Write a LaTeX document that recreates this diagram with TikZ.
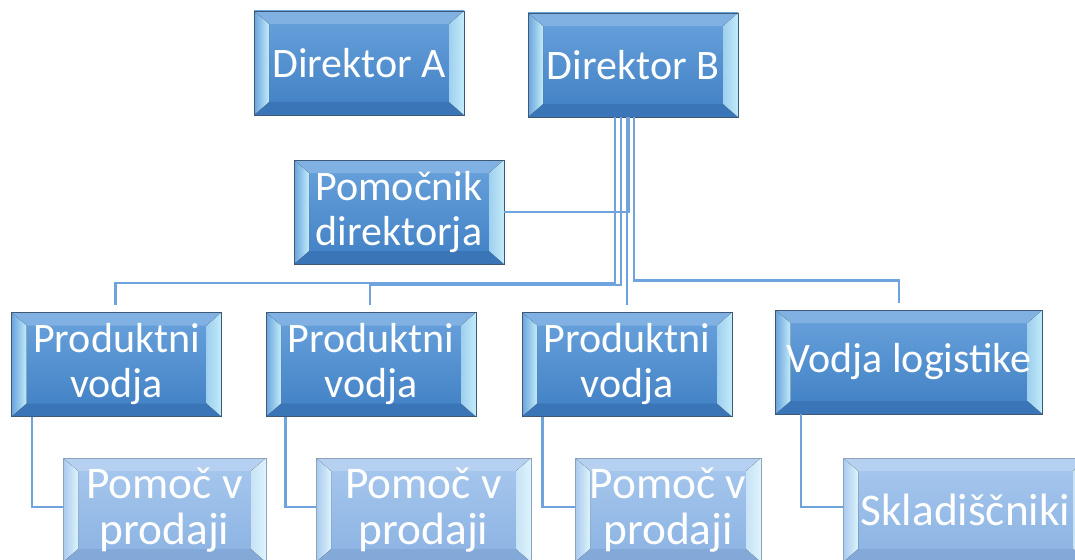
\documentclass[tikz,border=0pt]{standalone}
\usepackage{fontspec}
\setmainfont{Carlito}
\usepackage{tikz}
\usetikzlibrary{calc}
\definecolor{bosstop}{HTML}{6AA3DD}
\definecolor{bossbot}{HTML}{3F7FC3}
\definecolor{bosslite}{HTML}{C2ECFA}
\definecolor{bossdark}{HTML}{3A75B8}
\definecolor{bossline}{HTML}{3D5975}
\definecolor{helpertop}{HTML}{A8C8EE}
\definecolor{helperbot}{HTML}{8AB2E2}
\definecolor{helperlite}{HTML}{DDF4FC}
\definecolor{helperdark}{HTML}{83A9D9}
\definecolor{helperline}{HTML}{8DA2BC}
\definecolor{linkblue}{HTML}{6FA3DD}

\begin{document}
\begin{tikzpicture}[
        x=0.75pt, y=-0.75pt,
        every node/.style={font=\fontsize{31.5}{33.75}\selectfont, align=center, text=white, inner sep=0pt},
        bevel/.style={path picture={
            \coordinate (bsw) at (path picture bounding box.south west);
            \coordinate (bse) at (path picture bounding box.south east);
            \coordinate (bnw) at (path picture bounding box.north west);
            \coordinate (bne) at (path picture bounding box.north east);
            \fill[top color=#1top, bottom color=#1bot] (bsw) rectangle (bne);
            \fill[#1dark] (bsw) -- ($(bsw)+(11.25pt,9.75pt)$) -- ($(bse)+(-11.25pt,9.75pt)$) -- (bse) -- cycle;
            \fill[#1top!85!white] (bnw) -- ($(bnw)+(11.25pt,-9.75pt)$) -- ($(bne)+(-11.25pt,-9.75pt)$) -- (bne) -- cycle;
            \fill[left color=#1top, right color=#1lite] (bsw) -- ($(bsw)+(11.25pt,9.75pt)$) -- ($(bnw)+(11.25pt,-9.75pt)$) -- (bnw) -- cycle;
            \fill[left color=#1top!40!#1lite, right color=#1lite] (bse) -- ($(bse)+(-11.25pt,9.75pt)$) -- ($(bne)+(-11.25pt,-9.75pt)$) -- (bne) -- cycle;
        }},
        boss/.style={draw=bossline, line width=0.6pt, minimum width=157.5pt, minimum height=78pt, bevel=boss},
        helper/.style={draw=helperline, line width=0.6pt, minimum height=78pt, bevel=helper, font=\fontsize{34}{35}\selectfont},
        link/.style={draw=linkblue, line width=2pt}
    ]
        \clip (0,0) rectangle (1075,560);
        \fill[white] (0,0) rectangle (1075,560);
        \node[boss] (dirA) at (359,63) {Direktor A};
        \node[boss] (dirB) at (633,65) {Direktor B};
        \node[boss] (pom) at (399,212) {Pomočnik\\direktorja};
        \node[boss] (pv1) at (116.5,364.5) {Produktni\\vodja};
        \node[boss] (pv2) at (371,364.5) {Produktni\\vodja};
        \node[boss] (pv3) at (627,364.5) {Produktni\\vodja};
        \node[boss, minimum width=200.25pt] (vl) at (909,362) {Vodja logistike};
        \node[helper, minimum width=152.25pt] (pp1) at (164.5,510) {Pomoč v\\prodaji};
        \node[helper, minimum width=161.25pt] (pp2) at (423.5,510) {Pomoč v\\prodaji};
        \node[helper, minimum width=139.5pt] (pp3) at (668,510) {Pomoč v\\prodaji};
        \node[helper, minimum width=183.75pt] (skl) at (965.5,510) {Skladiščniki};
        \draw[link] ($(dirB.south)+(-18,0)$) |- ($(pv1.north)+(-1,-29)$) -- ($(pv1.north)+(-1,-7)$);
        \draw[link] ($(dirB.south)+(-12,0)$) |- ($(pv2.north)+(-1,-27)$) -- ($(pv2.north)+(-1,-7)$);
        \draw[link] ($(dirB.south)+(-6,0)$) -- ($(pv3.north)+(0,-7)$);
        \draw[link] ($(dirB.south)+(-4,0)$) |- (pom.east);
        \draw[link] ($(dirB.south)+(1,0)$) |- ($(vl.north)+(-10,-29)$) -- ($(vl.north)+(-10,-7)$);
        \draw[link] ($(pv1.south west)+(21,0)$) |- ($(pp1.west)+(0,-3)$);
        \draw[link] ($(pv2.south west)+(20,0)$) |- ($(pp2.west)+(0,-3)$);
        \draw[link] ($(pv3.south west)+(21,0)$) |- ($(pp3.west)+(0,-3)$);
        \draw[link] ($(vl.south west)+(26,0)$) |- ($(skl.west)+(0,-3)$);
    \end{tikzpicture}
\end{document}
